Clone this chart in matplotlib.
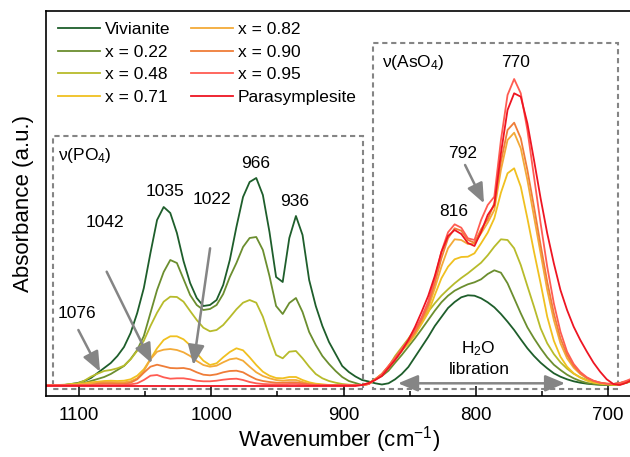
import numpy as np
import matplotlib.pyplot as plt
from matplotlib.patches import Rectangle

plt.rcParams['font.family'] = ['Liberation Sans', 'DejaVu Sans']
plt.rcParams['mathtext.default'] = 'regular'

# wavenumber grid (cm-1); absorbance every 5 cm-1
wavenumber = np.arange(1126, 680, -5)

labels = ['Vivianite', 'x = 0.22', 'x = 0.48', 'x = 0.71',
          'x = 0.82', 'x = 0.90', 'x = 0.95', 'Parasymplesite']
colors = ['#1e5e2b', '#6b8e2f', '#b7bb2b', '#f0c020',
          '#f3aa38', '#ef7d38', '#ff5c52', '#ee1522']

vivianite = [0, 0, 0, 0, 0.01, 0.02, 0.04, 0.07, 0.12, 0.17,
             0.22, 0.29, 0.38, 0.52, 0.72, 0.97, 1.32, 1.65, 1.78, 1.72,
             1.52, 1.24, 1.02, 0.87, 0.79, 0.80, 0.85, 1.00, 1.25, 1.58,
             1.88, 2.03, 2.07, 1.90, 1.53, 1.08, 1.03, 1.47, 1.69, 1.50,
             1.05, 0.79, 0.59, 0.43, 0.31, 0.19, 0.13, 0.085, 0.05, 0.035,
             0.017, 0.005, 0.017, 0.057, 0.11, 0.18, 0.28, 0.38, 0.48, 0.59,
             0.68, 0.77, 0.83, 0.877, 0.897, 0.893, 0.867, 0.827, 0.777, 0.71,
             0.633, 0.55, 0.457, 0.367, 0.29, 0.223, 0.167, 0.117, 0.083, 0.057,
             0.037, 0.023, 0.013, 0.007, 0.003, 0.0, 0.01, 0.02, 0.033, 0.05]

x022 = [0, 0, 0, 0, 0, 0.01, 0.02, 0.04, 0.06, 0.08,
        0.11, 0.15, 0.19, 0.26, 0.35, 0.49, 0.72, 0.95, 1.13, 1.25,
        1.22, 1.06, 0.90, 0.80, 0.75, 0.76, 0.80, 0.91, 1.08, 1.22,
        1.38, 1.47, 1.48, 1.35, 1.09, 0.79, 0.71, 0.82, 0.87, 0.73,
        0.53, 0.40, 0.29, 0.21, 0.14, 0.08, 0.04, 0.02, 0.0, 0.01,
        0.057, 0.09, 0.143, 0.223, 0.30, 0.383, 0.467, 0.557, 0.65, 0.743,
        0.827, 0.893, 0.943, 0.977, 1.007, 1.027, 1.057, 1.11, 1.147, 1.123,
        1.017, 0.867, 0.717, 0.577, 0.467, 0.367, 0.277, 0.203, 0.15, 0.103,
        0.067, 0.04, 0.02, 0.01, 0.003, 0.0, 0.0, 0.007, 0.023, 0.043]

x048 = [0, 0, 0, 0.003, 0.01, 0.017, 0.043, 0.083, 0.113, 0.14,
        0.15, 0.167, 0.193, 0.257, 0.343, 0.443, 0.59, 0.723, 0.833, 0.883,
        0.88, 0.833, 0.74, 0.65, 0.573, 0.537, 0.55, 0.60, 0.677, 0.757,
        0.823, 0.85, 0.823, 0.683, 0.483, 0.30, 0.267, 0.333, 0.34, 0.267,
        0.183, 0.11, 0.067, 0.04, 0.023, 0.01, 0.003, 0.0, 0.0, 0.02,
        0.06, 0.107, 0.183, 0.29, 0.377, 0.463, 0.557, 0.65, 0.733, 0.817,
        0.893, 0.957, 1.017, 1.07, 1.117, 1.17, 1.223, 1.297, 1.383, 1.457,
        1.45, 1.367, 1.2, 0.99, 0.783, 0.567, 0.417, 0.31, 0.227, 0.163,
        0.113, 0.077, 0.05, 0.033, 0.02, 0.01, 0.003, 0.007, 0.023, 0.043]

x071 = [0, 0, 0, 0, 0.007, 0.007, 0.017, 0.027, 0.033, 0.04,
        0.043, 0.04, 0.043, 0.057, 0.093, 0.157, 0.26, 0.367, 0.45, 0.487,
        0.487, 0.457, 0.397, 0.317, 0.243, 0.20, 0.217, 0.277, 0.33, 0.367,
        0.347, 0.277, 0.20, 0.133, 0.093, 0.07, 0.067, 0.08, 0.08, 0.05,
        0.027, 0.013, 0.007, 0, 0, 0, 0, 0, 0, 0.01,
        0.057, 0.11, 0.183, 0.257, 0.343, 0.41, 0.50, 0.61, 0.723, 0.90,
        1.067, 1.183, 1.257, 1.28, 1.283, 1.317, 1.417, 1.523, 1.667, 1.923,
        2.117, 2.167, 1.983, 1.667, 1.333, 1.017, 0.683, 0.443, 0.283, 0.183,
        0.117, 0.073, 0.043, 0.023, 0.013, 0.007, 0.003, 0.01, 0.027, 0.05]

x082 = [0, 0, 0, 0, 0, 0.003, 0.01, 0.017, 0.023, 0.03,
        0.03, 0.027, 0.027, 0.037, 0.067, 0.14, 0.257, 0.333, 0.353, 0.36,
        0.35, 0.327, 0.29, 0.24, 0.20, 0.183, 0.193, 0.227, 0.257, 0.267,
        0.243, 0.183, 0.127, 0.09, 0.067, 0.05, 0.043, 0.05, 0.05, 0.03,
        0.013, 0.007, 0, 0, 0, 0, 0, 0, 0, 0.01,
        0.057, 0.11, 0.183, 0.263, 0.35, 0.423, 0.517, 0.633, 0.767, 0.967,
        1.183, 1.367, 1.457, 1.45, 1.41, 1.417, 1.517, 1.623, 1.75, 2.15,
        2.45, 2.523, 2.367, 2.05, 1.683, 1.317, 0.95, 0.65, 0.417, 0.267,
        0.173, 0.11, 0.067, 0.04, 0.023, 0.013, 0.01, 0.017, 0.033, 0.057]

x090 = [0, 0, 0, 0, 0, 0, 0, 0, 0.013, 0.017,
        0.017, 0.013, 0.013, 0.023, 0.057, 0.123, 0.183, 0.203, 0.187, 0.17,
        0.167, 0.17, 0.157, 0.127, 0.103, 0.097, 0.107, 0.127, 0.14, 0.143,
        0.127, 0.09, 0.057, 0.04, 0.03, 0.023, 0.023, 0.027, 0.027, 0.017,
        0.007, 0, 0, 0, 0, 0, 0, 0, 0, 0.01,
        0.057, 0.11, 0.19, 0.27, 0.357, 0.433, 0.527, 0.65, 0.80, 1.017,
        1.267, 1.467, 1.567, 1.543, 1.45, 1.423, 1.557, 1.657, 1.817, 2.233,
        2.55, 2.623, 2.467, 2.15, 1.783, 1.40, 1.033, 0.717, 0.467, 0.30,
        0.19, 0.117, 0.07, 0.04, 0.023, 0.013, 0.01, 0.017, 0.037, 0.063]

x095 = [0, 0, 0, 0, 0, 0, 0, 0, 0, 0,
        0, 0, 0, 0.007, 0.017, 0.05, 0.093, 0.10, 0.077, 0.063,
        0.067, 0.067, 0.057, 0.043, 0.037, 0.037, 0.043, 0.053, 0.06, 0.063,
        0.05, 0.03, 0.017, 0.01, 0.007, 0.007, 0.007, 0.01, 0.01, 0.007,
        0, 0, 0, 0, 0, 0, 0, 0, 0, 0.01,
        0.055, 0.105, 0.19, 0.273, 0.363, 0.45, 0.55, 0.677, 0.833, 1.067,
        1.333, 1.527, 1.607, 1.573, 1.467, 1.45, 1.65, 1.80, 1.883, 2.45,
        2.90, 3.06, 2.917, 2.55, 2.083, 1.617, 1.183, 0.817, 0.533, 0.333,
        0.21, 0.13, 0.077, 0.043, 0.023, 0.013, 0.01, 0.02, 0.043, 0.07]

parasymplesite = [-0.01, -0.01, -0.01, -0.01, -0.01, -0.01, -0.01, -0.01, -0.01, -0.01,
                  -0.01, -0.01, -0.01, -0.01, -0.01, -0.01, -0.01, -0.01, -0.01, -0.01,
                  -0.01, -0.01, -0.01, -0.01, -0.01, -0.01, -0.01, -0.01, -0.01, -0.01,
                  -0.01, -0.01, -0.01, -0.01, -0.01, -0.01, -0.01, -0.01, -0.01, -0.01,
                  -0.01, -0.01, -0.01, -0.01, -0.01, -0.01, -0.01, -0.01, 0.0, 0.02,
                  0.05, 0.09, 0.17, 0.25, 0.34, 0.45, 0.58, 0.73, 0.89, 1.09,
                  1.33, 1.49, 1.55, 1.51, 1.42, 1.39, 1.53, 1.70, 1.80, 2.317,
                  2.75, 2.917, 2.883, 2.617, 2.25, 1.867, 1.517, 1.217, 0.95, 0.75,
                  0.583, 0.45, 0.333, 0.223, 0.133, 0.057, 0.01, 0.0, 0.023, 0.057]

spectra = [vivianite, x022, x048, x071, x082, x090, x095, parasymplesite]

fig = plt.figure(figsize=(6.3, 4.57), dpi=100)
ax = fig.add_axes([45.7 / 630, 61 / 457, 585.9 / 630, 385 / 457])

for y, lab, c in zip(spectra, labels, colors):
    ax.plot(wavenumber, y, color=c, lw=1.3, label=lab, solid_joinstyle='round')

ax.set_xlim(1125.2, 682.2)
ax.set_ylim(-0.11, 3.74)
ax.set_xticks([1100, 1000, 900, 800, 700])
ax.set_xticks([1050, 950, 850, 750], minor=True)
ax.set_yticks([])
ax.tick_params(axis='x', which='major', direction='in', length=7, width=1.1,
               labelsize=13.5, pad=8)
ax.tick_params(axis='x', which='minor', direction='in', length=3.7, width=1.1)
for s in ax.spines.values():
    s.set_linewidth(1.2)

ax.set_xlabel('Wavenumber (cm$^{-1}$)', fontsize=16, labelpad=0)
ax.set_ylabel('Absorbance (a.u.)', fontsize=16, labelpad=8.5)

gray = '#858585'
box_style = dict(fill=False, edgecolor=gray, lw=1.5, ls=(0, (2.5, 1.8)), zorder=0.5)
ax.add_patch(Rectangle((885, -0.04), 1120 - 885, 2.53, **box_style))
ax.add_patch(Rectangle((692.4, -0.04), 877.7 - 692.4, 3.46, **box_style))

ax.text(1115.9, 2.30, r'$\nu$(PO$_4$)', fontsize=12.5, ha='left', va='center')
ax.text(870.9, 3.225, r'$\nu$(AsO$_4$)', fontsize=12.5, ha='left', va='center')

peaks = [('1035', 1035, 1.93), ('966', 966.2, 2.21), ('936', 936.7, 1.84),
         ('1022', 999.4, 1.86), ('1042', 1080.3, 1.63), ('1076', 1101.5, 0.71),
         ('816', 816.8, 1.74), ('792', 809.6, 2.31), ('770', 769.6, 3.23)]
for txt, xx, yy in peaks:
    ax.text(xx, yy, txt, fontsize=12.5, ha='center', va='center')

ax.text(798.3, 0.36, 'H$_2$O', fontsize=12.5, ha='center', va='center')
ax.text(797.5, 0.15, 'libration', fontsize=12.5, ha='center', va='center')

arrow = dict(arrowstyle='-|>,head_length=0.6,head_width=0.25', color=gray,
             lw=1.8, mutation_scale=20, shrinkA=0, shrinkB=0)
arrows = [((1100.5, 0.55), (1084.1, 0.133)),
          ((1079.1, 1.133), (1045.0, 0.217)),
          ((1000.9, 1.367), (1013.6, 0.20)),
          ((808.1, 2.20), (793.8, 1.817))]
for start, end in arrows:
    ax.annotate('', xy=end, xytext=start, arrowprops=arrow)

darrow = dict(arrow, arrowstyle='<|-|>,head_length=0.6,head_width=0.25')
ax.annotate('', xy=(732.5, 0.017), xytext=(858.8, 0.017), arrowprops=darrow)

ax.legend(loc='upper left', bbox_to_anchor=(58 / 630, 1 - 22 / 457),
          bbox_transform=fig.transFigure, ncol=2, frameon=False, fontsize=12.5,
          handlelength=2.4, handletextpad=0.3, columnspacing=1.2,
          labelspacing=0.43, borderpad=0, borderaxespad=0)

fig.savefig('out.png', dpi=100)
